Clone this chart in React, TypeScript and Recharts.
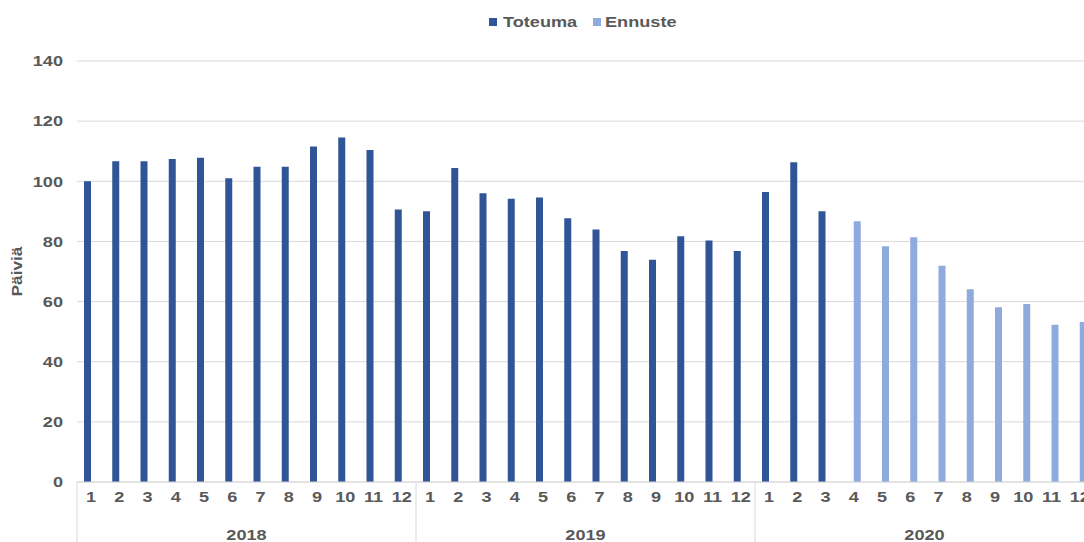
import React from "react";
import { BarChart, Bar, XAxis, YAxis, CartesianGrid } from "recharts";

const months: number[] = [1, 2, 3, 4, 5, 6, 7, 8, 9, 10, 11, 12];
const years: string[] = ["2018", "2019", "2020"];

const toteuma2018: (number | null)[] = [100, 106.7, 106.7, 107.4, 107.8, 101.0, 104.8, 104.8, 111.6, 114.6, 110.4, 90.6];
const toteuma2019: (number | null)[] = [90.0, 104.4, 96.0, 94.2, 94.6, 87.7, 84.0, 76.8, 73.9, 81.7, 80.3, 76.8];
const toteuma2020: (number | null)[] = [96.4, 106.3, 90.0, null, null, null, null, null, null, null, null, null];
const ennuste2020: (number | null)[] = [null, null, null, 86.7, 78.4, 81.4, 71.9, 64.1, 58.1, 59.2, 52.3, 53.2];

const yTicks: number[] = [0, 20, 40, 60, 80, 100, 120, 140];

const toteumaByYear = [toteuma2018, toteuma2019, toteuma2020];
const ennusteByYear: (number | null)[][] = [
  months.map(() => null),
  months.map(() => null),
  ennuste2020,
];

const data = years.flatMap((year, yi) =>
  months.map((m, mi) => ({
    key: `${year}-${m}`,
    year,
    month: m,
    Toteuma: toteumaByYear[yi][mi],
    Ennuste: ennusteByYear[yi][mi],
  }))
);

const CHART_W = 1110;
const CHART_H = 542;
const Y_W = 77;
const MARGIN = { top: 61, right: 16, bottom: 0, left: 0 };
const PLOT_W = CHART_W - Y_W - MARGIN.left - MARGIN.right;
const GROUP_W = PLOT_W / years.length;
const MONTH_AXIS_H = 30;
const YEAR_AXIS_H = 30;

const TEXT_COLOR = "#595959";
const FONT = "'Liberation Sans', Arial, sans-serif";
const SX = 1.25;
const FS = 14.5;
const DARK = "#2F5597";
const LIGHT = "#8FAADC";
const GRID = "#D9D9D9";

const SText = ({ x, y, anchor, children }: any) => (
  <text
    transform={`translate(${x},${y}) scale(${SX},1)`}
    x={0}
    y={0}
    dy="0.36em"
    textAnchor={anchor}
    fill={TEXT_COLOR}
    fontFamily={FONT}
    fontWeight="bold"
    fontSize={FS}
  >
    {children}
  </text>
);

const YTick = (props: any) => {
  const { x, y, payload } = props;
  return <SText x={x} y={y} anchor="end">{payload.value}</SText>;
};

const MonthTick = (props: any) => {
  const { x, y, payload } = props;
  return <SText x={x} y={y + 15} anchor="middle">{payload.value}</SText>;
};

const YearTick = (props: any) => {
  const { x, y, payload, index } = props;
  const left = x - GROUP_W / 2;
  const right = x + GROUP_W / 2;
  return (
    <g>
      <line x1={left} x2={left} y1={y - MONTH_AXIS_H} y2={y + YEAR_AXIS_H} stroke={GRID} strokeWidth={1} />
      {index === years.length - 1 && (
        <line x1={right} x2={right} y1={y - MONTH_AXIS_H} y2={y + YEAR_AXIS_H} stroke={GRID} strokeWidth={1} />
      )}
      <SText x={x} y={y + 23} anchor="middle">{payload.value}</SText>
    </g>
  );
};

const YLabel = (props: any) => {
  const vb = props.viewBox || { x: 0, y: MARGIN.top, width: Y_W, height: 421 };
  const cx = vb.x + 17;
  const cy = vb.y + vb.height / 2;
  return (
    <text
      transform={`translate(${cx},${cy}) rotate(-90) scale(1.15,1)`}
      x={0}
      y={0}
      dy="0.36em"
      textAnchor="middle"
      fill={TEXT_COLOR}
      fontFamily={FONT}
      fontWeight="bold"
      fontSize={15}
    >
      Päiviä
    </text>
  );
};

const LegendItem = ({ color, label, gap }: { color: string; label: string; gap: number }) => (
  <span style={{ display: "inline-flex", alignItems: "center" }}>
    <span style={{ display: "inline-block", width: 8, height: 8, background: color, marginRight: gap }} />
    <span
      style={{
        display: "inline-block",
        transform: `scaleX(${SX})`,
        transformOrigin: "left center",
      }}
    >
      {label}
    </span>
  </span>
);

export default function App() {
  return (
    <div
      style={{
        position: "fixed",
        left: 0,
        top: 0,
        width: 1084,
        height: 542,
        overflow: "hidden",
        background: "#fff",
      }}
    >
      <div
        style={{
          position: "absolute",
          top: 11,
          left: 489,
          height: 20,
          lineHeight: "20px",
          fontFamily: FONT,
          fontWeight: "bold",
          fontSize: FS,
          color: TEXT_COLOR,
          whiteSpace: "nowrap",
        }}
      >
        <span style={{ position: "absolute", left: 0, top: 0 }}>
          <LegendItem color={DARK} label="Toteuma" gap={6} />
        </span>
        <span style={{ position: "absolute", left: 104, top: 0 }}>
          <LegendItem color={LIGHT} label="Ennuste" gap={4} />
        </span>
      </div>
      <div style={{ position: "absolute", left: 0, top: 0 }}>
        <BarChart
          width={CHART_W}
          height={CHART_H}
          data={data}
          margin={MARGIN}
          barSize={7}
          barGap={0}
        >
          <CartesianGrid vertical={false} stroke={GRID} strokeWidth={1} />
          <XAxis
            dataKey="month"
            interval={0}
            height={MONTH_AXIS_H}
            tickLine={false}
            tickSize={0}
            tickMargin={0}
            axisLine={{ stroke: GRID, strokeWidth: 1 }}
            tick={<MonthTick />}
          />
          <XAxis
            xAxisId="year"
            dataKey="year"
            allowDuplicatedCategory={false}
            interval={0}
            height={YEAR_AXIS_H}
            tickLine={false}
            tickSize={0}
            tickMargin={0}
            axisLine={false}
            tick={<YearTick />}
          />
          <YAxis
            width={Y_W}
            domain={[0, 140]}
            ticks={yTicks}
            interval={0}
            axisLine={false}
            tickLine={false}
            tickSize={0}
            tickMargin={14}
            tick={<YTick />}
            label={<YLabel />}
          />
          <Bar dataKey="Toteuma" fill={DARK} isAnimationActive={false} />
          <Bar dataKey="Ennuste" fill={LIGHT} isAnimationActive={false} />
        </BarChart>
      </div>
    </div>
  );
}
